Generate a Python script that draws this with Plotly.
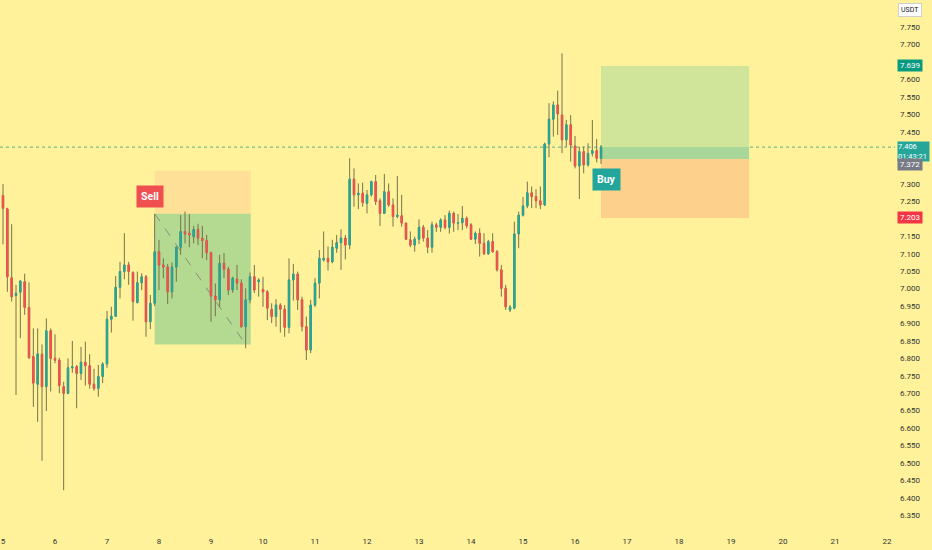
import plotly.graph_objects as go
import pandas as pd

# 2h candles, USDT pair
opens = [7.267, 7.229, 7.031, 6.980, 6.990, 7.020, 6.946, 6.805, 6.726, 6.812,
         6.719, 6.879, 6.800, 6.795, 6.719, 6.700, 6.773, 6.776, 6.757, 6.789,
         6.779, 6.726, 6.714, 6.748, 6.784, 6.912, 6.921, 7.004, 7.049, 7.068,
         7.046, 6.960, 7.017, 7.034, 6.905, 6.958, 7.106, 7.068, 7.062, 6.991,
         7.062, 7.119, 7.164, 7.159, 7.149, 7.170, 7.145, 7.138, 7.103, 6.979,
         6.968, 7.073, 7.056, 6.996, 7.027, 7.016, 6.891, 6.968, 7.034, 7.020,
         6.998, 6.991, 6.941, 6.920, 6.953, 6.941, 6.889, 7.025, 7.042, 6.968,
         6.891, 6.824, 6.953, 7.016, 7.082, 7.087, 7.077, 7.116, 7.132, 7.145,
         7.125, 7.314, 7.269, 7.274, 7.245, 7.269, 7.307, 7.252, 7.216, 7.278,
         7.240, 7.207, 7.209, 7.188, 7.140, 7.125, 7.142, 7.176, 7.145, 7.119,
         7.183, 7.176, 7.197, 7.176, 7.216, 7.188, 7.189, 7.202, 7.183, 7.142,
         7.159, 7.130, 7.100, 7.135, 7.106, 7.054, 7.001, 6.939, 6.944, 7.157,
         7.211, 7.237, 7.275, 7.264, 7.252, 7.240, 7.415, 7.486, 7.527, 7.498,
         7.427, 7.470, 7.409, 7.352, 7.393, 7.355, 7.388, 7.396, 7.374]
highs = [7.300, 7.232, 7.185, 7.011, 7.024, 7.043, 7.018, 6.886, 6.886, 6.840,
         6.915, 6.886, 6.869, 6.802, 6.733, 6.800, 6.850, 6.781, 6.833, 6.848,
         6.812, 6.770, 6.781, 6.789, 6.936, 6.948, 7.036, 7.077, 7.159, 7.077,
         7.050, 7.049, 7.044, 7.039, 6.982, 7.214, 7.140, 7.087, 7.071, 7.075,
         7.121, 7.211, 7.221, 7.214, 7.180, 7.186, 7.180, 7.154, 7.106, 7.015,
         7.097, 7.102, 7.063, 7.034, 7.068, 7.027, 7.001, 7.046, 7.068, 7.030,
         7.034, 6.996, 6.958, 6.970, 6.958, 6.953, 7.087, 7.071, 7.049, 6.977,
         6.920, 6.968, 7.030, 7.111, 7.164, 7.121, 7.140, 7.154, 7.170, 7.154,
         7.374, 7.345, 7.302, 7.304, 7.283, 7.310, 7.326, 7.259, 7.329, 7.302,
         7.259, 7.323, 7.269, 7.189, 7.164, 7.149, 7.199, 7.183, 7.168, 7.192,
         7.189, 7.202, 7.211, 7.224, 7.221, 7.214, 7.237, 7.207, 7.188, 7.164,
         7.173, 7.159, 7.140, 7.159, 7.111, 7.068, 7.011, 6.953, 7.192, 7.221,
         7.263, 7.307, 7.293, 7.285, 7.293, 7.419, 7.532, 7.537, 7.568, 7.675,
         7.484, 7.498, 7.438, 7.407, 7.407, 7.417, 7.484, 7.429, 7.412]
lows = [7.127, 6.991, 6.963, 6.695, 6.858, 6.925, 6.798, 6.661, 6.618, 6.506,
        6.649, 6.705, 6.786, 6.700, 6.422, 6.697, 6.759, 6.657, 6.738, 6.722,
        6.713, 6.707, 6.690, 6.729, 6.773, 6.874, 6.920, 6.972, 7.027, 7.011,
        6.908, 6.958, 6.996, 6.862, 6.884, 6.950, 6.996, 7.030, 6.956, 6.972,
        7.020, 7.097, 7.130, 7.119, 7.130, 7.125, 7.087, 7.082, 6.905, 6.921,
        6.947, 7.030, 6.982, 6.988, 6.996, 6.888, 6.829, 6.958, 6.987, 6.977,
        6.948, 6.910, 6.901, 6.891, 6.874, 6.862, 6.872, 6.966, 6.939, 6.877,
        6.795, 6.815, 6.948, 6.972, 7.078, 7.052, 7.073, 7.103, 7.054, 7.084,
        7.113, 7.235, 7.228, 7.235, 7.216, 7.264, 7.240, 7.180, 7.214, 7.235,
        7.178, 7.202, 7.178, 7.140, 7.119, 7.106, 7.128, 7.135, 7.102, 7.103,
        7.163, 7.163, 7.170, 7.158, 7.163, 7.168, 7.168, 7.173, 7.140, 7.128,
        7.092, 7.097, 7.097, 7.103, 7.049, 6.977, 6.939, 6.933, 6.941, 7.116,
        7.207, 7.231, 7.231, 7.231, 7.228, 7.237, 7.377, 7.436, 7.441, 7.389,
        7.407, 7.364, 7.345, 7.257, 7.331, 7.350, 7.379, 7.362, 7.358]
closes = [7.231, 7.034, 6.977, 6.987, 7.022, 6.946, 6.802, 6.729, 6.813, 6.719,
          6.879, 6.800, 6.795, 6.722, 6.700, 6.773, 6.776, 6.757, 6.789, 6.779,
          6.726, 6.714, 6.748, 6.784, 6.912, 6.921, 7.004, 7.049, 7.068, 7.049,
          6.963, 7.017, 7.034, 6.905, 6.958, 7.106, 7.068, 7.062, 6.991, 7.062,
          7.119, 7.164, 7.157, 7.154, 7.170, 7.145, 7.138, 7.103, 6.979, 6.968,
          7.073, 7.056, 6.996, 7.030, 7.016, 6.891, 6.968, 7.034, 6.996, 7.025,
          6.991, 6.944, 6.920, 6.953, 6.941, 6.889, 7.025, 7.042, 6.968, 6.891,
          6.824, 6.953, 7.016, 7.087, 7.087, 7.077, 7.119, 7.132, 7.145, 7.125,
          7.314, 7.269, 7.274, 7.247, 7.269, 7.307, 7.250, 7.216, 7.278, 7.240,
          7.207, 7.211, 7.188, 7.142, 7.125, 7.142, 7.176, 7.145, 7.119, 7.183,
          7.176, 7.197, 7.176, 7.216, 7.188, 7.189, 7.202, 7.180, 7.142, 7.159,
          7.130, 7.100, 7.135, 7.106, 7.054, 7.001, 6.948, 6.947, 7.157, 7.211,
          7.237, 7.275, 7.264, 7.252, 7.240, 7.415, 7.486, 7.527, 7.501, 7.427,
          7.470, 7.412, 7.352, 7.393, 7.355, 7.388, 7.396, 7.374, 7.406]

times = pd.date_range("2024-03-05 00:00", periods=len(opens), freq="2h")
day_labels = list(range(5, 23))
day_dates = [pd.Timestamp(2024, 3, d) for d in day_labels]

# price scale labels that are not hidden behind the position labels
price_ticks = [6.35, 6.40, 6.45, 6.50, 6.55, 6.60, 6.65, 6.70, 6.75, 6.80,
               6.85, 6.90, 6.95, 7.00, 7.05, 7.10, 7.15, 7.25, 7.30,
               7.45, 7.50, 7.55, 7.60, 7.70, 7.75]

# short position (closed at target)
sell_start, sell_end = "2024-03-07 22:00", "2024-03-09 18:20"
sell_entry, sell_stop, sell_target = 7.215, 7.338, 6.840
sell_hit = times[56]
sell_label_time, sell_label_price = "2024-03-07 19:45", 7.263

# long position (open)
buy_start, buy_end = "2024-03-16 12:00", "2024-03-19 08:20"
buy_entry, buy_stop, buy_target = 7.372, 7.203, 7.639
buy_label_time, buy_label_price = "2024-03-16 14:20", 7.312
countdown = "01:43:21"

bg = "#fff29b"
up, down, wick = "#26a69a", "#ef5350", "#76734a"

fig = go.Figure()

# wicks
fig.add_trace(go.Candlestick(
    x=times, open=opens, high=highs, low=lows, close=closes,
    increasing=dict(line=dict(color=wick, width=1), fillcolor=wick),
    decreasing=dict(line=dict(color=wick, width=1), fillcolor=wick),
    hoverinfo="skip", showlegend=False))

# bodies on top
body_hi = [max(o, c) for o, c in zip(opens, closes)]
body_lo = [min(o, c) for o, c in zip(opens, closes)]
fig.add_trace(go.Candlestick(
    x=times, open=opens, high=body_hi, low=body_lo, close=closes,
    increasing=dict(line=dict(color=up, width=1), fillcolor=up),
    decreasing=dict(line=dict(color=down, width=1), fillcolor=down),
    showlegend=False))

last = closes[-1]

shapes = [
    # sell box
    dict(type="rect", x0=sell_start, x1=sell_end, y0=sell_entry, y1=sell_stop,
         fillcolor="#fee096", line_width=0, layer="below"),
    dict(type="rect", x0=sell_start, x1=sell_end, y0=sell_target, y1=sell_entry,
         fillcolor="#b4d991", line_width=0, layer="below"),
    dict(type="line", x0=sell_start, x1=sell_hit, y0=sell_entry, y1=sell_target,
         line=dict(color="#8a8f7a", width=1, dash="dash"), layer="below"),
    # buy box
    dict(type="rect", x0=buy_start, x1=buy_end, y0=buy_entry, y1=buy_target,
         fillcolor="#d0e49a", line_width=0, layer="below"),
    dict(type="rect", x0=buy_start, x1=buy_end, y0=buy_stop, y1=buy_entry,
         fillcolor="#fdd08c", line_width=0, layer="below"),
    dict(type="rect", x0=buy_start, x1=buy_end, y0=buy_entry, y1=last,
         fillcolor="#a9d79a", line_width=0, layer="below"),
    # last price line
    dict(type="line", xref="paper", x0=0, x1=1, y0=last, y1=last,
         line=dict(color="#5fae8e", width=1, dash="dot"), layer="below"),
]

lbl = dict(xref="paper", x=1, xanchor="left", xshift=2, showarrow=False,
           width=22, borderpad=1, font=dict(family="Roboto", size=8, color="white"))
annotations = [
    dict(x=sell_label_time, y=sell_label_price, text="<b>Sell</b>", showarrow=False,
         bgcolor="#ef4f4f", borderpad=4, font=dict(family="Roboto", size=10.5, color="white")),
    dict(x=buy_label_time, y=buy_label_price, text="<b>Buy</b>", showarrow=False,
         bgcolor="#22a59a", borderpad=4, font=dict(family="Roboto", size=10.5, color="white")),
    dict(lbl, y=buy_target, text=f"{buy_target:.3f}", bgcolor="#089981"),
    dict(lbl, y=last, text=f"{last:.3f}<br>{countdown}", bgcolor="#26a69a",
         yshift=-4, width=31, borderpad=0, align="left",
         font=dict(family="Roboto", size=7.5, color="white")),
    dict(lbl, y=buy_entry, text=f"{buy_entry:.3f}", bgcolor="#787b86", yshift=-6),
    dict(lbl, y=buy_stop, text=f"{buy_stop:.3f}", bgcolor="#f23645"),
    dict(xref="paper", yref="paper", x=1, y=1, xanchor="left", yanchor="top",
         xshift=3, yshift=-3, text="USDT", showarrow=False, bgcolor="white",
         bordercolor="#d0d0d0", borderwidth=1, borderpad=2,
         font=dict(family="Roboto", size=7, color="#131722")),
]

fig.update_layout(
    width=932, height=550,
    margin=dict(l=0, r=37, t=0, b=18),
    paper_bgcolor=bg, plot_bgcolor=bg,
    showlegend=False, boxgap=0.55,
    shapes=shapes, annotations=annotations,
    xaxis=dict(range=["2024-03-04 22:37", "2024-03-22 03:41"],
               rangeslider=dict(visible=False), showgrid=False, zeroline=False,
               tickvals=day_dates, ticktext=[str(d) for d in day_labels],
               tickfont=dict(family="Roboto", size=8, color="#333333"), ticks="",
               ticklabelstandoff=3),
    yaxis=dict(side="right", range=[6.302, 7.828], tickvals=price_ticks,
               tickformat=".3f", showgrid=False, zeroline=False, ticks="",
               ticklabelstandoff=4,
               tickfont=dict(family="Roboto", size=8, color="#333333")),
)

fig.write_html("out.html", config={"displayModeBar": False},
               post_script="document.body.style.margin='0';")
